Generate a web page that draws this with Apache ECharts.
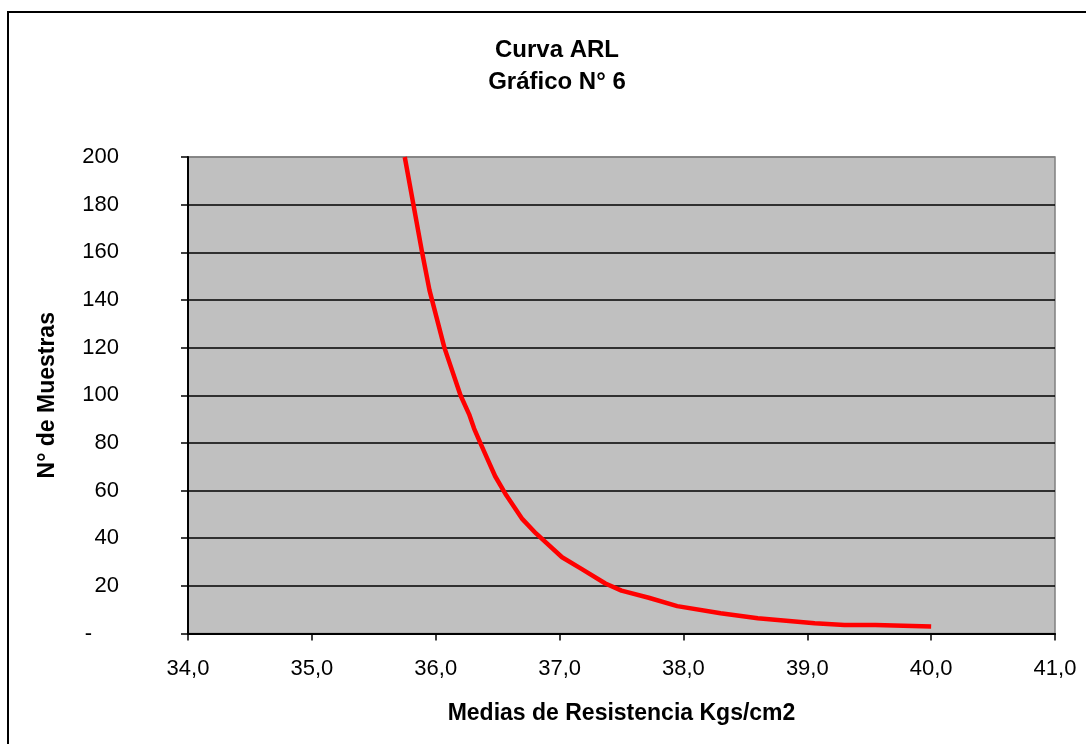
<!DOCTYPE html>
<html>
<head>
<meta charset="utf-8">
<script src="https://cdn.jsdelivr.net/npm/echarts@6/dist/echarts.min.js"></script>
<style>
html,body{margin:0;padding:0;background:#fff;}
#c{width:1086px;height:744px;}
</style>
</head>
<body>
<div id="c"></div>
<script>
const titleText = 'Curva ARL\nGráfico N° 6';
const xName = 'Medias de Resistencia Kgs/cm2';
const yName = 'N° de Muestras';
const meanValues = [35.75, 35.82, 35.89, 35.95, 36.07, 36.20, 36.27, 36.31, 36.36, 36.42, 36.48, 36.57, 36.70, 36.81, 37.02, 37.18, 37.37, 37.50, 37.72, 37.95, 38.30, 38.60, 39.06, 39.30, 39.55, 40.00];
const arlValues = [200, 180, 160, 144, 120, 100, 92, 86, 80, 73, 66, 58, 48, 42, 32, 27, 21, 18, 15, 11.5, 8.5, 6.4, 4.3, 3.6, 3.6, 2.9];
const xTicks = {min: 34, max: 41, step: 1};
const yTicks = {min: 0, max: 200, step: 20};

const FONT = '"Liberation Sans", Arial, sans-serif';
const chart = echarts.init(document.getElementById('c'));
const splitColors = [];
for (let v = yTicks.min; v <= yTicks.max; v += yTicks.step) {
  splitColors.push(v === yTicks.max ? '#808080' : '#000000');
}
chart.setOption({
  animation: false,
  backgroundColor: '#ffffff',
  title: {
    text: titleText,
    left: 552, top: 29, textAlign: 'center',
    textStyle: {fontFamily: FONT, fontSize: 24, fontWeight: 'bold', color: '#000', lineHeight: 32}
  },
  graphic: [{
    type: 'rect', shape: {x: 8, y: 12, width: 1100, height: 760},
    style: {fill: 'none', stroke: '#000', lineWidth: 2}, silent: true, z: 100
  }],
  grid: {
    left: 188, top: 157, right: 31, bottom: 110.5,
    show: true, backgroundColor: '#C0C0C0', borderColor: '#808080', borderWidth: 1.5
  },
  xAxis: {
    type: 'value', min: xTicks.min, max: xTicks.max, interval: xTicks.step,
    name: xName, nameLocation: 'middle', nameGap: 69,
    nameTextStyle: {fontFamily: FONT, fontSize: 23, fontWeight: 'bold', color: '#000'},
    axisLine: {show: true, onZero: false, lineStyle: {color: '#000', width: 2}},
    axisTick: {show: true, length: 7, lineStyle: {color: '#000', width: 1.5}},
    axisLabel: {
      fontFamily: FONT, fontSize: 22, color: '#000', margin: 24,
      formatter: v => v.toFixed(1).replace('.', ',')
    },
    splitLine: {show: false}
  },
  yAxis: {
    type: 'value', min: yTicks.min, max: yTicks.max, interval: yTicks.step,
    name: yName, nameLocation: 'middle', nameGap: 129, nameRotate: 90,
    nameTextStyle: {fontFamily: FONT, fontSize: 23, fontWeight: 'bold', color: '#000'},
    axisLine: {show: true, lineStyle: {color: '#000', width: 2}},
    axisTick: {show: true, length: 7, lineStyle: {color: '#000', width: 1.5}},
    axisLabel: {
      fontFamily: FONT, fontSize: 22, color: '#000', margin: 69,
      formatter: v => v === 0 ? '{d|-}' : String(v),
      rich: {d: {fontFamily: FONT, fontSize: 22, color: '#000', padding: [0, 27, 0, 0]}}
    },
    splitLine: {show: true, lineStyle: {color: splitColors, width: 1.5}}
  },
  series: [{
    type: 'line',
    data: meanValues.map((x, i) => [x, arlValues[i]]),
    showSymbol: false,
    smooth: false,
    lineStyle: {color: '#FF0000', width: 4.5},
    clip: true
  }]
});
</script>
</body>
</html>
